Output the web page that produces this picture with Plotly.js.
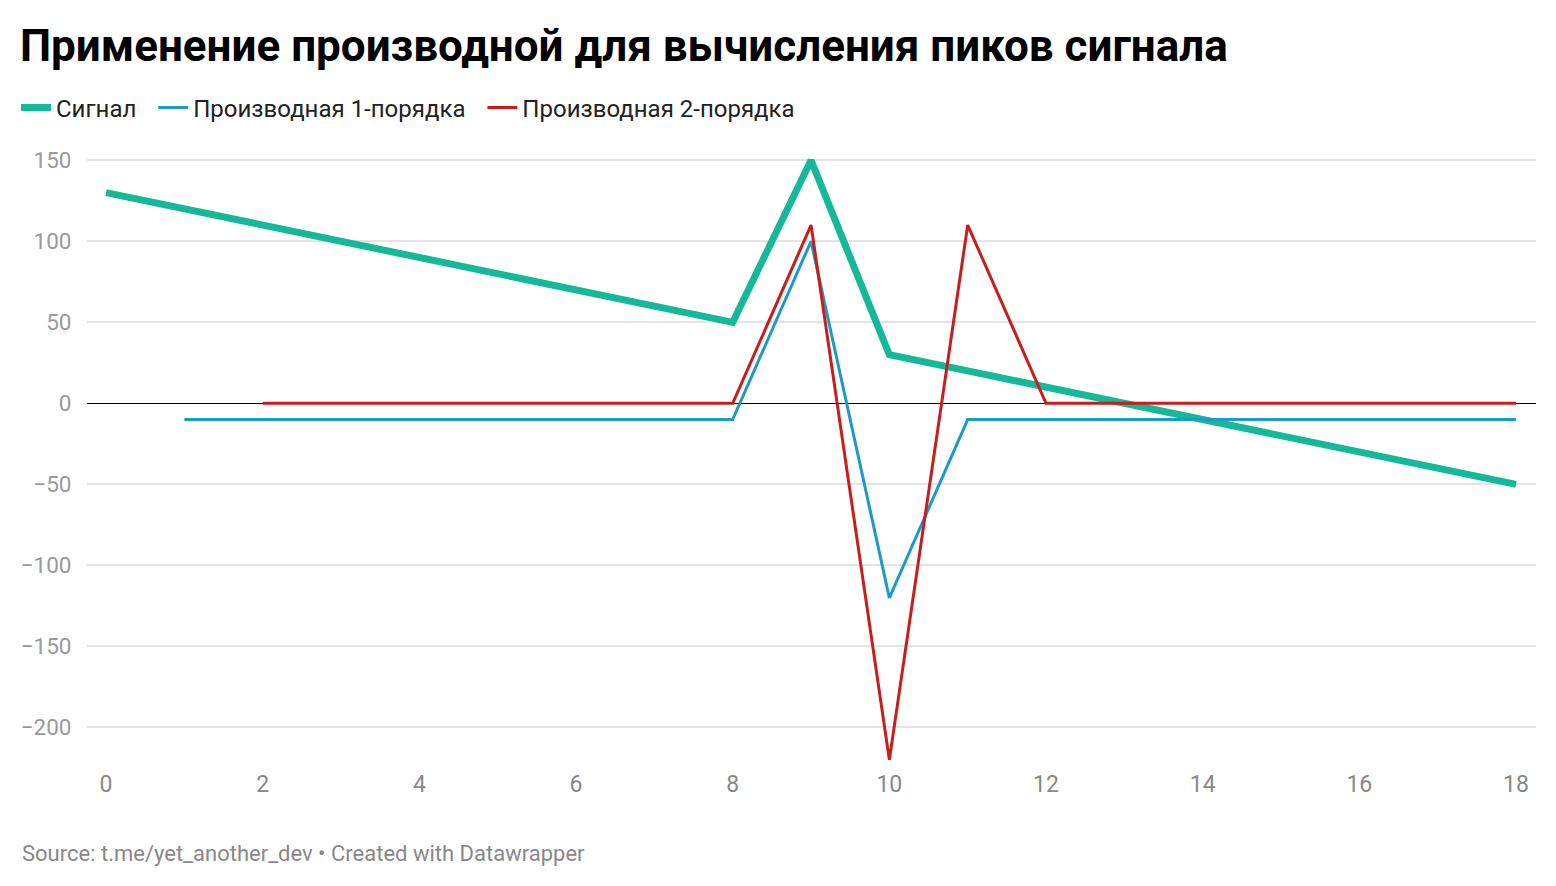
<!DOCTYPE html>
<html>
<head>
<meta charset="utf-8">
<script src="https://cdn.plot.ly/plotly-3.0.1.min.js"></script>
<style>
  body { margin: 0; background: #fff; }
  #chart { width: 1556px; height: 886px; }
</style>
</head>
<body>
<div id="chart"></div>
<script>
  // values
  var xSignal = [0, 1, 2, 3, 4, 5, 6, 7, 8, 9, 10, 11, 12, 13, 14, 15, 16, 17, 18];
  var signal  = [130, 120, 110, 100, 90, 80, 70, 60, 50, 150, 30, 20, 10, 0, -10, -20, -30, -40, -50];

  var xDeriv1 = [1, 2, 3, 4, 5, 6, 7, 8, 9, 10, 11, 12, 13, 14, 15, 16, 17, 18];
  var deriv1  = [-10, -10, -10, -10, -10, -10, -10, -10, 100, -120, -10, -10, -10, -10, -10, -10, -10, -10];

  var xDeriv2 = [2, 3, 4, 5, 6, 7, 8, 9, 10, 11, 12, 13, 14, 15, 16, 17, 18];
  var deriv2  = [0, 0, 0, 0, 0, 0, 0, 110, -220, 110, 0, 0, 0, 0, 0, 0, 0];

  var xTicks = [0, 2, 4, 6, 8, 10, 12, 14, 16, 18];
  var yTicks = [-200, -150, -100, -50, 0, 50, 100, 150];

  var font = "Roboto, 'Noto Sans', sans-serif";

  // plot box in pixels, used to place the source line
  var W = 1556, H = 886;
  var mL = 87, mR = 20, mT = 157, mB = 118;
  var plotW = W - mL - mR, plotH = H - mT - mB;

  var pad = "\u00a0\u00a0"; // a bit more room between legend entries

  var data = [
    {
      x: xSignal, y: signal, name: "Сигнал" + pad,
      type: "scatter", mode: "lines",
      line: { color: "#15b99a", width: 7 }
    },
    {
      x: xDeriv1, y: deriv1, name: "Производная 1-порядка" + pad,
      type: "scatter", mode: "lines",
      line: { color: "#1d9bc6", width: 3 }
    },
    {
      x: xDeriv2, y: deriv2, name: "Производная 2-порядка",
      type: "scatter", mode: "lines",
      line: { color: "#c71e1d", width: 3 }
    }
  ];

  var layout = {
    width: W,
    height: H,
    margin: { l: mL, r: mR, t: mT, b: mB },
    paper_bgcolor: "#fff",
    plot_bgcolor: "#fff",
    font: { family: font, color: "#333" },
    title: {
      text: "<b>Применение производной для вычисления пиков сигнала</b>",
      font: { family: font, size: 44, color: "#000" },
      xref: "container", yref: "container",
      x: 20 / W, xanchor: "left",
      y: 1 - 46 / H, yanchor: "middle"
    },
    showlegend: true,
    legend: {
      orientation: "h",
      xref: "container", yref: "container",
      x: 16 / W, xanchor: "left",
      y: 1 - 108 / H, yanchor: "middle",
      font: { family: font, size: 24, color: "#222" },
      traceorder: "normal"
    },
    xaxis: {
      range: [-0.243, 18.255],
      tickvals: xTicks,
      showgrid: false,
      zeroline: false,
      showline: false,
      ticks: "",
      tickfont: { family: font, size: 23, color: "#888" }
    },
    yaxis: {
      range: [-225, 152],
      tickvals: yTicks,
      showgrid: true,
      gridcolor: "#e4e4e4",
      gridwidth: 2,
      zeroline: true,
      zerolinecolor: "#000",
      zerolinewidth: 1.5,
      showline: false,
      ticks: "outside", ticklen: 10, tickcolor: "rgba(0,0,0,0)",
      tickfont: { family: font, size: 22.5, color: "#999" }
    },
    annotations: [
      {
        text: "Source: t.me/yet_another_dev • Created with Datawrapper",
        xref: "paper", yref: "paper",
        x: (20 - mL) / plotW, xanchor: "left",
        y: (H - mB - 853) / plotH, yanchor: "middle",
        showarrow: false,
        font: { family: font, size: 22, color: "#888" }
      }
    ]
  };

  Plotly.newPlot("chart", data, layout, { displayModeBar: false, staticPlot: true });
</script>
</body>
</html>
